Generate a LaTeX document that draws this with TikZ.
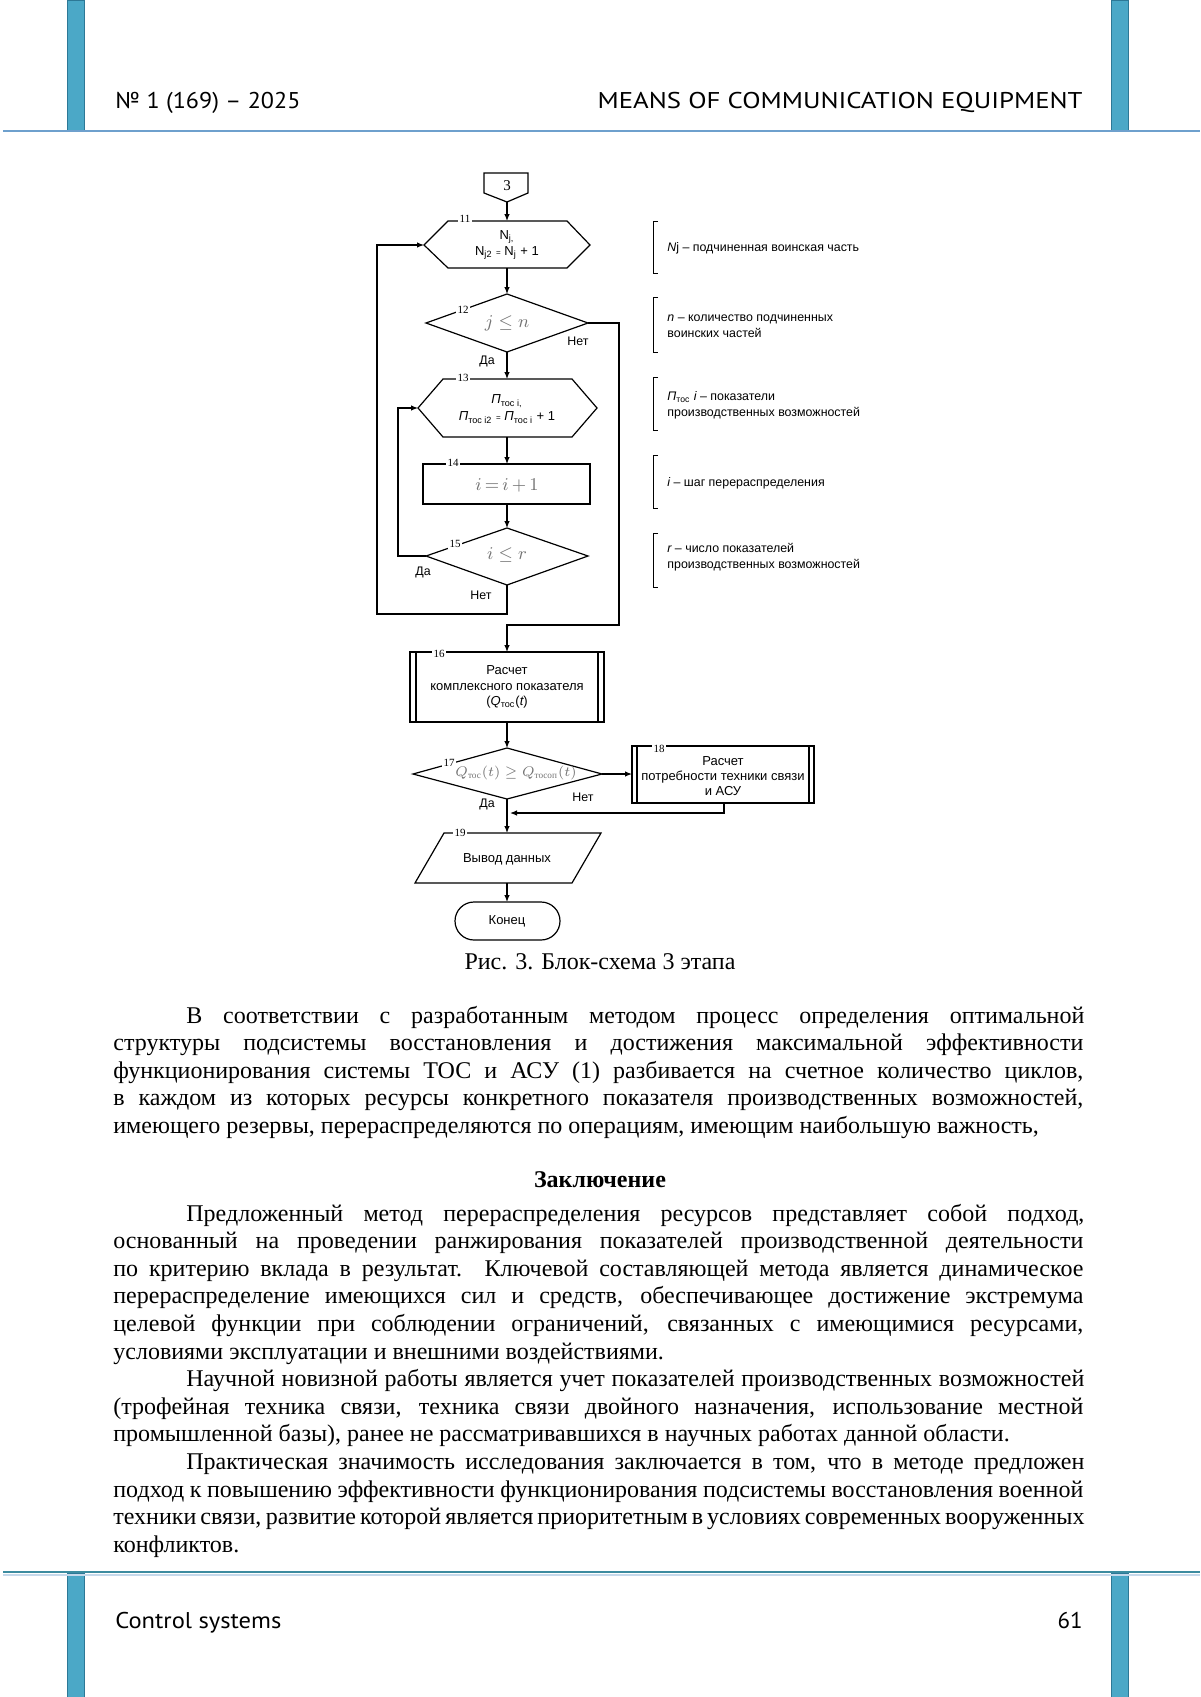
\documentclass[tikz,border=0pt]{standalone}
\usepackage{fontspec}
\usepackage{amsmath}
\usepackage{graphicx}
\setmainfont{Liberation Serif}
\newfontfamily\fcf{Liberation Sans}
\newfontfamily\hdf{PT Sans}
\usetikzlibrary{arrows.meta}
\definecolor{barblue}{RGB}{75,168,199}
\definecolor{bardark}{RGB}{45,120,150}
\definecolor{rulecol}{RGB}{110,160,205}
\definecolor{rulecoltwo}{RGB}{60,140,160}
\definecolor{mgray}{RGB}{115,115,115}
\newcommand{\jl}[2]{\makebox[#1][s]{#2}}
\begin{document}
\begin{tikzpicture}[x=0.5pt,y=-0.5pt,
  fc/.style={line width=0.6pt,draw=black},
  arr/.style={fc,-{Latex[length=3.5pt,width=2.8pt]}},
  num/.style={font=\fontsize{5.5}{6}\selectfont,fill=white,inner sep=0.8pt},
  ftxt/.style={font=\fcf\fontsize{6.5}{7.6}\selectfont,align=center,inner sep=0},
  mth/.style={text=mgray,font=\fontsize{9}{10}\selectfont,inner sep=0},
  lbl/.style={font=\fcf\fontsize{6.2}{7}\selectfont,inner sep=0},
  note/.style={font=\fcf\fontsize{6.2}{8.2}\selectfont,align=left,inner sep=0,anchor=west},
  body/.style={font=\fontsize{12}{13.8}\selectfont,inner sep=0,anchor=base west},
  hdr/.style={font=\hdf\fontsize{11.4}{12}\selectfont,inner sep=0},
  bar/.style={fill=barblue,draw=bardark,line width=0.4pt}]
\useasboundingbox (0,0) rectangle (1200,1697);
\fill[white] (0,0) rectangle (1200,1697);
% ---- page frame ----
\fill[bar] (67,0) rectangle (84,131);
\fill[bar] (1111,0) rectangle (1128,131);
\fill[bar] (67,1573) rectangle (84,1697);
\fill[bar] (1111,1573) rectangle (1128,1697);
\draw[rulecol,line width=1pt] (3,131) -- (1200,131);
\draw[rulecoltwo,line width=1pt] (3,1572) -- (1200,1572);
\draw[rulecol!40,line width=0.6pt] (3,1575) -- (1200,1575);
\node[hdr,anchor=base west] (hl) at (115,108) {\resizebox{92.5pt}{\height}{№ 1 (169) – 2025}};
\node[hdr,anchor=base east] (hr) at (1083,108) {\resizebox{242.5pt}{\height}{MEANS OF COMMUNICATION EQUIPMENT}};
\node[hdr,anchor=base west] (fl) at (115,1628) {\resizebox{83pt}{\height}{Control systems}};
\node[hdr,anchor=base east] (fr) at (1083,1628) {\resizebox{12.5pt}{\height}{61}};
% ---- flowchart ----
% connector 3
\draw[fc] (484,173) -- (528,173) -- (528,193) -- (507,202) -- (484,193) -- cycle;
\node[font=\fontsize{7.5}{8}\selectfont,inner sep=0] (c3) at (507,186) {3};
\coordinate (c3b) at (507,202);
% 11 hexagon
\draw[fc] (424,245) -- (448,221) -- (567,221) -- (590,245) -- (567,268) -- (448,268) -- cycle;
\coordinate (h11t) at (507,221); \coordinate (h11b) at (507,268); \coordinate (h11l) at (424,245);
\node[num] (l11) at (465,219) {11};
\node[ftxt] (t11) at (507,245) {N\textsubscript{j,}\\[0.6pt]N\textsubscript{j2} {\fontsize{4}{4}\selectfont =} N\textsubscript{j} + 1};
% 12 diamond
\draw[fc] (507,294) -- (588,323) -- (507,352) -- (426,323) -- cycle;
\coordinate (d12t) at (507,294); \coordinate (d12r) at (588,323); \coordinate (d12b) at (507,352);
\node[num] (l12) at (463,310) {12};
\node[mth] (t12) at (507,323) {$j\le n$};
\node[lbl] (n12) at (578,341) {Нет};
\node[lbl] (y12) at (487,361) {Да};
% 13 hexagon
\draw[fc] (418,408) -- (443,379) -- (572,379) -- (597,408) -- (572,437) -- (443,437) -- cycle;
\coordinate (h13t) at (507,379); \coordinate (h13b) at (507,437); \coordinate (h13l) at (418,408);
\node[num] (l13) at (463,378) {13};
\node[ftxt] (t13) at (507,409) {{\itshape П}\textsubscript{тос i,}\\[1pt]{\itshape П}\textsubscript{тос i2} {\fontsize{4}{4}\selectfont =} {\itshape П}\textsubscript{тос i} + 1};
% 14 rect
\draw[fc] (423,464) rectangle (590,504);
\coordinate (r14t) at (507,464); \coordinate (r14b) at (507,504);
\node[num] (l14) at (453,463) {14};
\node[mth] (t14) at (507,485) {$i\mkern-2mu=\mkern-2mu i\mkern-1mu+\mkern-1mu 1$};
% 15 diamond
\draw[fc] (507,528) -- (588,556) -- (507,585) -- (426,556) -- cycle;
\coordinate (d15t) at (507,528); \coordinate (d15l) at (426,556); \coordinate (d15b) at (507,585);
\node[num] (l15) at (455,544) {15};
\node[mth] (t15) at (507,555) {$i\le r$};
\node[lbl] (y15) at (423,572) {Да};
\node[lbl] (n15) at (481,595) {Нет};
% 16 predefined process
\draw[fc] (410,652) rectangle (604,722);
\draw[fc] (416,652) -- (416,722);
\draw[fc] (598,652) -- (598,722);
\coordinate (b16t) at (507,652); \coordinate (b16b) at (507,722);
\node[num] (l16) at (439,654) {16};
\node[ftxt] (t16) at (507,687) {Расчет\\комплексного показателя\\({\itshape Q}\textsubscript{тос}({\itshape t})};
% 17 diamond
\draw[fc] (507,748) -- (602,774) -- (507,799) -- (413,774) -- cycle;
\coordinate (d17t) at (507,748); \coordinate (d17r) at (602,774); \coordinate (d17b) at (507,799);
\node[num] (l17) at (449,763) {17};
\node[mth,font=\fontsize{6.6}{8}\selectfont] (t17) at (516,773) {$Q_{\text{тос}}(t)\geq Q_{\text{тосоп}}(t)$};
\node[lbl] (n17) at (583,797) {Нет};
\node[lbl] (y17) at (487,804) {Да};
% 18 predefined process
\draw[fc] (632,746) rectangle (814,803);
\draw[fc] (637,746) -- (637,803);
\draw[fc] (809,746) -- (809,803);
\coordinate (b18l) at (632,774); \coordinate (b18b) at (724,803);
\node[num] (l18) at (659,749) {18};
\node[ftxt] (t18) at (723,776) {Расчет\\потребности техники связи\\и АСУ};
% 19 parallelogram
\draw[fc] (444,833) -- (601,833) -- (572,883) -- (415,883) -- cycle;
\coordinate (p19t) at (507,833); \coordinate (p19b) at (507,883);
\node[num] (l19) at (460,833) {19};
\node[ftxt] (t19) at (507,859) {Вывод данных};
% end
\draw[fc,rounded corners=9.5pt] (455,902) rectangle (560,940);
\coordinate (endt) at (507,902);
\node[ftxt] (tend) at (507,921) {Конец};
% connectors
\coordinate (a1) at (398,556); \coordinate (a2) at (398,408);
\coordinate (b1) at (507,614); \coordinate (b2) at (377,614); \coordinate (b3) at (377,245);
\coordinate (c1) at (619,323); \coordinate (c2) at (619,625); \coordinate (c3m) at (507,625);
\coordinate (e1) at (724,813); \coordinate (e2) at (507,813);
\draw[arr] (c3b) -- (h11t);
\draw[arr] (h11b) -- (d12t);
\draw[arr] (d12b) -- (h13t);
\draw[arr] (h13b) -- (r14t);
\draw[arr] (r14b) -- (d15t);
\draw[arr] (d15l) -- (a1) -- (a2) -- (h13l);
\draw[arr] (d15b) -- (b1) -- (b2) -- (b3) -- (h11l);
\draw[arr] (d12r) -- (c1) -- (c2) -- (c3m) -- (b16t);
\draw[arr] (b16b) -- (d17t);
\draw[arr] (d17r) -- (b18l);
\draw[arr] (b18b) -- (e1) -- ([xshift=1.5pt]e2);
\draw[arr] (d17b) -- (p19t);
\draw[arr] (p19b) -- (endt);
% brackets and notes
\foreach \ya/\yb in {221/273,297/352,377/430,455/508,533/587}{
  \draw[fc,line width=0.5pt] (658,\ya) -- (653,\ya) -- (653,\yb) -- (658,\yb);
}
\node[note] (m1) at (667,248) {{\itshape N}j – подчиненная воинская часть};
\node[note] (m2) at (667,326) {{\itshape n} – количество подчиненных\\воинских частей};
\node[note] (m3) at (667,405) {{\itshape П}\textsubscript{тос} {\itshape i} – показатели\\производственных возможностей};
\node[note] (m4) at (667,483) {{\itshape i} – шаг перераспределения};
\node[note] (m5) at (667,557) {{\itshape r} – число показателей\\производственных возможностей};
% ---- caption and text ----
\node[body,anchor=base] (cap) at (600,969) {Рис. 3. Блок-схема 3 этапа};
\node[body] (p1a) at (186,1023) {\jl{449pt}{В соответствии с разработанным методом процесс определения оптимальной}};
\node[body] (p1b) at (113,1050.6) {\jl{485pt}{структуры подсистемы восстановления и достижения максимальной эффективности}};
\node[body] (p1c) at (113,1078.2) {\jl{485pt}{функционирования системы ТОС и АСУ (1) разбивается на счетное количество циклов,}};
\node[body] (p1d) at (113,1105.8) {\jl{485pt}{в каждом из которых ресурсы конкретного показателя производственных возможностей,}};
\node[body] (p1e) at (113,1133.4) {имеющего резервы, перераспределяются по операциям, имеющим наибольшую важность,};
\node[body,anchor=base,font=\bfseries\fontsize{12}{13.8}\selectfont] (hd) at (600,1187) {Заключение};
\node[body] (p2a) at (186,1221) {\jl{449pt}{Предложенный метод перераспределения ресурсов представляет собой подход,}};
\node[body] (p2b) at (113,1248.6) {\jl{485pt}{основанный на проведении ранжирования показателей производственной деятельности}};
\node[body] (p2c) at (113,1276.2) {\jl{485pt}{по критерию вклада в результат. Ключевой составляющей метода является динамическое}};
\node[body] (p2d) at (113,1303.8) {\jl{485pt}{перераспределение имеющихся сил и средств, обеспечивающее достижение экстремума}};
\node[body] (p2e) at (113,1331.4) {\jl{485pt}{целевой функции при соблюдении ограничений, связанных с имеющимися ресурсами,}};
\node[body] (p2f) at (113,1359) {условиями эксплуатации и внешними воздействиями.};
\node[body] (p3a) at (186,1386.6) {\jl{449pt}{Научной новизной работы является учет показателей производственных возможностей}};
\node[body] (p3b) at (113,1414.2) {\jl{485pt}{(трофейная техника связи, техника связи двойного назначения, использование местной}};
\node[body] (p3c) at (113,1441.8) {промышленной базы), ранее не рассматривавшихся в научных работах данной области.};
\node[body] (p4a) at (186,1469.4) {\jl{449pt}{Практическая значимость исследования заключается в том, что в методе предложен}};
\node[body] (p4b) at (113,1497) {\jl{485pt}{подход к повышению эффективности функционирования подсистемы восстановления военной}};
\node[body] (p4c) at (113,1524.6) {\jl{485pt}{техники связи, развитие которой является приоритетным в условиях современных вооруженных}};
\node[body] (p4d) at (113,1552.2) {конфликтов.};
\end{tikzpicture}
\end{document}
